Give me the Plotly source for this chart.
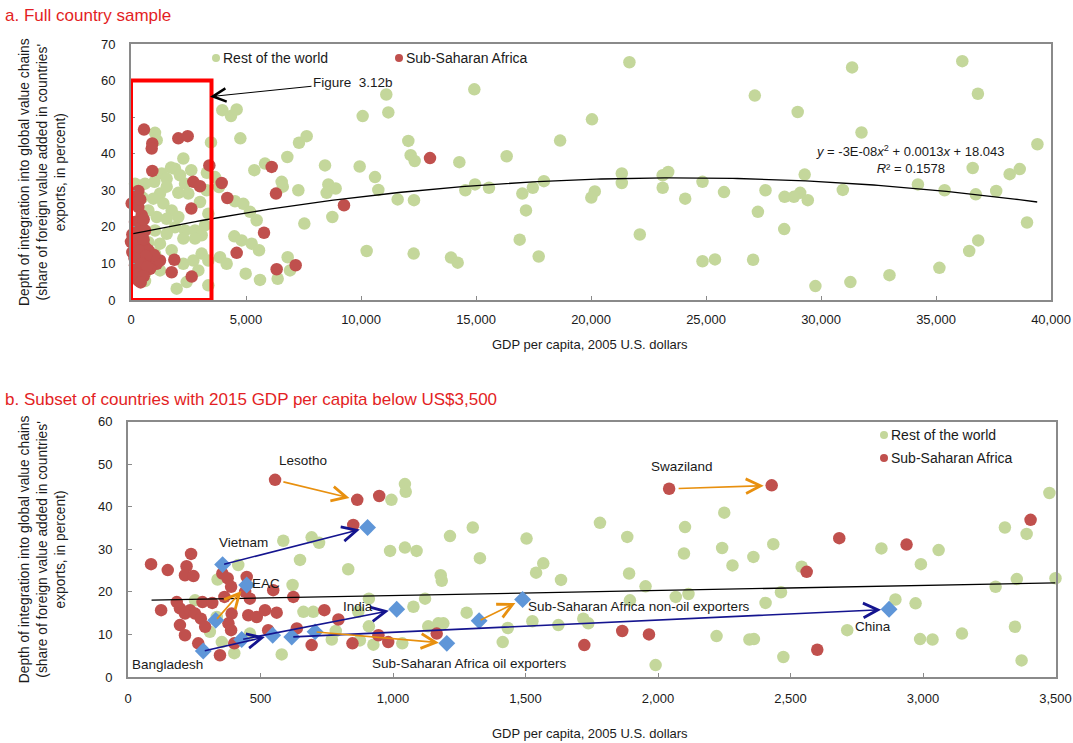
import numpy as np
import plotly.graph_objects as go

# ---------------- panel a: full country sample ----------------
# rest of the world (green)
a_row_x = [1043, 1116, 2275, 1913, 1739, 1333, 1551, 1014, 609, 2130, 2348, 2493, 2057, 3000, 3290,
           1261, 970, 1406, 1768, 1116, 1551, 2057, 1913, 2348, 2783, 3072, 1551, 1043, 754, 1261,
           2275, 2783, 3217, 3362, 609, 609, 1261, 2275, 2710, 3072, 2928, 2420, 1986, 3362, 3362,
           1768, 1043, 500, 754, 174, 1551, 2620, 3478, 3300,
           3971, 4348, 4594, 4754, 7304, 7638, 6797, 5826, 5362, 8435, 6551, 6600, 7275, 8580, 8507,
           8899, 3652, 3826, 4522, 4884, 5174, 5464, 7536, 8754, 4493, 4812, 5246, 5565, 3870, 4159,
           4986, 5609, 6812, 6913, 6377,
           14927, 11100, 11188, 10072, 12058, 12159, 12333, 14275, 16333, 9942, 10609, 10754, 11594,
           12304, 14536, 14957, 15565, 17014, 17174, 10246, 12290, 13913, 14203, 16899,
           21670, 31352, 36143, 36822, 27122, 28987, 20043, 18657, 31761, 39409, 36596, 38643, 38204,
           34213, 35374, 36730, 37617, 30948, 29291, 29096, 28822, 28417, 29426, 27587, 25783, 24848,
           24096, 23357, 23117, 23117, 21339, 21339, 20165, 20013, 17952, 17470, 27257, 28400, 38957,
           36835, 36443, 22122, 17726, 24848, 25391, 27048, 35148, 32978, 31278, 29757]
a_row_y = [45.7, 43.7, 38.7, 35.9, 36.2, 34.6, 33.2, 32.3, 31.8, 34.1, 31.8, 29.1, 29.3, 26.8, 30.0,
           29.1, 27.7, 26.4, 24.5, 22.7, 22.2, 22.7, 19.9, 19.0, 19.0, 17.7, 18.1, 19.0, 15.8, 15.4,
           16.8, 16.8, 20.4, 23.6, 7.2, 5.2, 8.1, 9.9, 10.8, 12.7, 8.1, 4.9, 3.1, 4.0, 10.8,
           13.6, 12.7, 28.0, 24.5, 31.8, 31.0, 35.5, 43.1, 34.8,
           51.9, 50.3, 52.1, 44.2, 43.0, 44.8, 39.1, 37.3, 35.5, 36.8, 32.3, 31.0, 30.0, 31.6, 29.3,
           30.5, 33.6, 30.9, 27.0, 26.3, 24.1, 21.8, 20.9, 22.7, 17.4, 16.3, 15.4, 13.6, 11.7, 9.9,
           7.2, 5.5, 11.7, 8.1, 5.8,
           57.6, 56.2, 51.3, 50.3, 43.5, 39.6, 38.0, 37.7, 39.3, 36.5, 33.6, 30.1, 27.5,
           27.3, 30.0, 31.6, 30.7, 29.1, 24.5, 13.4, 12.7, 11.6, 10.2, 16.5,
           65.0, 63.6, 65.3, 56.4, 55.9, 51.4, 49.4, 43.6, 45.8, 42.6, 36.1, 35.8, 34.4,
           31.6, 30.0, 28.9, 29.8, 30.1, 34.3, 29.3, 28.2, 28.2, 27.3, 30.0, 29.5, 32.3,
           27.7, 35.0, 34.1, 30.7, 34.6, 32.0, 29.7, 28.0, 32.5, 30.7, 24.1, 19.4, 21.2,
           16.3, 13.4, 17.9, 11.9, 10.6, 11.1, 11.0, 8.8, 6.8, 4.9, 3.8]
# sub-Saharan Africa (red)
a_ssa_x = [565, 926, 900, 926, 2057, 2464, 3406, 2710, 3000, 2622, 1884, 1768, 2639, 246, 30, 319,
           465, 174, 465, 58, 246, 609, 58, 391, 754, 1116, 174, 465, 319, 826, 1261, 0, 609, 754,
           1000, 319, 400, 550, 250, 550, 350, 650, 150, 450, 700, 300, 550, 420,
           3942, 4188, 6116, 6304, 5783, 4594, 6333, 7159, 9261, 13000]
a_ssa_y = [46.6, 42.8, 41.4, 35.3, 44.2, 44.8, 36.8, 32.3, 31.1, 25.0, 11.0, 7.6, 6.4, 29.3, 26.4, 25.4,
           23.2, 21.3, 19.9, 17.9, 15.8, 14.5, 13.1, 11.7, 10.8, 9.9, 9.5, 8.1, 5.3, 8.5, 10.8, 15.9, 19.0, 13.6,
           12.3, 29.8, 27.5, 22.0, 18.5, 16.5, 13.5, 12.0, 11.5, 10.0, 9.0, 7.0, 6.5, 4.8,
           32.0, 27.9, 36.4, 29.1, 18.4, 12.9, 8.4, 9.5, 25.9, 38.8]
# polynomial trend: y = a*x^2 + b*x + c
a_trend_coef = [-2.71e-8, 0.00129, 18.043]
a_trend_range = [100, 39400]

# ---------------- panel b: countries below US$3,500 ----------------
b_row_x = [586, 693, 721, 649, 831, 989, 1045, 1089, 994, 1045, 1048, 416, 338, 621, 662, 699, 909, 869,
           909, 1077, 1121, 1133, 1171, 769, 784, 875, 926, 1035, 580, 401, 354, 253, 335, 309, 460,
           1215, 1301, 1328, 1180, 1184, 1504, 1567, 1540, 1634, 1781, 1884, 1891, 1953, 2102, 2098,
           2250, 2242, 2281, 2360, 1278, 1190, 1433, 1414, 1526, 1624, 1718, 1737, 1894, 2067, 2115,
           2221, 2345, 1991,
           2435, 2542, 2464, 2406, 2362, 2473, 2714, 2843, 2992, 3059, 2896, 2972, 2989, 3036, 3147,
           3309, 3391, 3477, 3500, 3354, 3274, 3347, 3372]
b_row_y = [32.0, 32.8, 31.5, 27.5, 25.3, 29.6, 30.4, 29.6, 41.6, 45.3, 43.5, 26.3, 22.9, 21.6, 15.3, 15.3, 18.4, 15.3,
           11.9, 16.5, 18.4, 11.9, 12.6, 8.8, 10.8, 8.6, 7.6, 7.9, 5.3, 5.6, 8.2, 18.0, 14.1, 10.6, 10.2,
           33.1, 35.1, 27.9, 23.9, 22.6, 32.5, 26.7, 24.5, 22.8, 36.2, 32.9, 24.3, 21.3, 35.2, 29.0,
           38.6, 30.3, 26.2, 28.2, 15.1, 12.6, 11.5, 8.2, 13.1, 12.2, 13.7, 12.6, 18.0, 18.8, 19.5,
           9.6, 8.8, 2.8,
           31.2, 25.9, 19.9, 17.4, 8.9, 4.7, 11.0, 30.2, 26.5, 29.8, 18.2, 17.3, 8.9, 8.8, 10.2,
           35.1, 33.6, 43.2, 23.2, 23.0, 21.2, 11.8, 3.9]
b_ssa_x = [87, 150, 125, 238, 221, 215, 247, 184, 196, 215, 196, 215, 234, 253, 275, 291, 281, 318, 265,
           347, 356, 376, 389, 364, 391, 379, 389, 401, 448, 460, 442, 454, 486, 517, 561, 548, 624, 529,
           637, 693, 741, 794, 847, 850, 865, 555, 948, 945, 982, 1165, 1722, 1865, 1966, 2042, 2429,
           2684, 2938, 2561, 2601, 3406]
b_ssa_y = [26.5, 25.1, 15.7, 28.9, 26.0, 23.9, 23.7, 17.6, 16.1, 14.9, 12.2, 9.8, 15.7, 14.9, 13.7, 11.8, 17.6, 17.4, 7.9,
           5.1, 24.3, 23.2, 21.2, 18.8, 14.9, 12.6, 11.0, 7.9, 23.5, 18.4, 20.0, 14.5, 14.1, 15.7, 15.1, 20.4, 18.8, 11.0,
           11.4, 7.5, 15.7, 13.5, 7.9, 35.7, 41.6, 46.3, 42.5, 9.8, 8.2, 10.2, 7.5, 10.8, 10.0, 44.2, 45.0,
           32.6, 31.1, 24.7, 6.4, 36.9]
b_trend_x = [89, 3500]
b_trend_y = [18.05, 22.1]

# comparison groups (blue diamonds): earlier and 2015 positions
grp_x = [284, 546, 429, 1014, 357, 904, 331, 448, 618, 2872, 706, 1203, 1325, 1489]
grp_y = [6.1, 9.8, 8.8, 15.9, 26.4, 35.1, 13.3, 21.6, 9.4, 15.9, 10.6, 7.9, 13.2, 18.2]

# arrows: start, end, colour group
arr_x0 = [284, 429, 357, 618, 331, 706, 1325, 555, 2042]
arr_y0 = [6.1, 8.8, 26.4, 9.4, 13.3, 10.6, 13.2, 46.3, 44.2]
arr_x1 = [546, 1014, 904, 2872, 448, 1203, 1489, 865, 2429]
arr_y1 = [9.8, 15.9, 35.1, 15.9, 21.6, 7.9, 18.2, 41.6, 45.0]
arr_kind = ["asia", "asia", "asia", "asia", "africa", "africa", "africa", "africa", "africa"]
arr_start_gap = [0, 0, 0, 0, 0, 0, 0, 7, 8]

lab_text = ["Lesotho", "Vietnam", "EAC", "India", "Bangladesh", "China",
            "Sub-Saharan Africa oil exporters", "Sub-Saharan Africa non-oil exporters", "Swaziland"]
lab_x = [662, 435, 462, 869, 148, 2810, 1290, 1502, 2089]
lab_y = [50.8, 31.5, 22.0, 16.5, 3.0, 11.8, 3.2, 16.6, 49.4]
lab_anchor = ["center", "center", "left", "center", "center", "center", "center", "left", "center"]

GREEN = "#c4d79b"
RED = "#c0504d"
BLUE = "#5f96d8"
NAVY = "#14148f"
ORANGE = "#e8900f"
FRAME = "#8a8a8a"
TXT = "#1a1a1a"
FONT = "Liberation Sans, Arial, sans-serif"
W, H = 1073, 743

fig = go.Figure()

# panel a
fig.add_trace(go.Scatter(x=a_row_x, y=a_row_y, mode="markers", name="Rest of the world",
                         marker=dict(color=GREEN, size=12.5), cliponaxis=False,
                         xaxis="x", yaxis="y", showlegend=False))
fig.add_trace(go.Scatter(x=a_ssa_x, y=a_ssa_y, mode="markers", name="Sub-Saharan Africa",
                         marker=dict(color=RED, size=12.5), cliponaxis=False,
                         xaxis="x", yaxis="y", showlegend=False))
xf = np.linspace(a_trend_range[0], a_trend_range[1], 200)
fig.add_trace(go.Scatter(x=xf, y=np.polyval(a_trend_coef, xf), mode="lines",
                         line=dict(color="black", width=1.3), xaxis="x", yaxis="y", showlegend=False))

# panel b
fig.add_trace(go.Scatter(x=b_row_x, y=b_row_y, mode="markers", marker=dict(color=GREEN, size=12.5),
                         cliponaxis=False, xaxis="x2", yaxis="y2", showlegend=False))
fig.add_trace(go.Scatter(x=b_ssa_x, y=b_ssa_y, mode="markers", marker=dict(color=RED, size=12.5),
                         cliponaxis=False, xaxis="x2", yaxis="y2", showlegend=False))
fig.add_trace(go.Scatter(x=b_trend_x, y=b_trend_y, mode="lines", line=dict(color="black", width=1.3),
                         xaxis="x2", yaxis="y2", showlegend=False))
fig.add_trace(go.Scatter(x=grp_x, y=grp_y, mode="markers", marker=dict(color=BLUE, size=13, symbol="diamond"),
                         cliponaxis=False, xaxis="x2", yaxis="y2", showlegend=False))

ann = []
for x0, y0, x1, y1, k, g in zip(arr_x0, arr_y0, arr_x1, arr_y1, arr_kind, arr_start_gap):
    ann.append(dict(x=x1, y=y1, ax=x0, ay=y0, xref="x2", yref="y2", axref="x2", ayref="y2",
                    text="", showarrow=True, arrowhead=5, arrowsize=1.8, arrowwidth=1.6,
                    arrowcolor=NAVY if k == "asia" else ORANGE, standoff=8, startstandoff=g))
for t, x, y, a in zip(lab_text, lab_x, lab_y, lab_anchor):
    ann.append(dict(x=x, y=y, xref="x2", yref="y2", text=t, showarrow=False, xanchor=a,
                    yanchor="middle", font=dict(size=13.5, color=TXT)))

# panel a annotations
ann.append(dict(x=3435, y=55.6, ax=9652, ay=59.6, xref="x", yref="y", axref="x", ayref="y",
                text="Figure\u00a0\u00a03.12b", showarrow=True, arrowhead=5, arrowsize=2.6, arrowwidth=1,
                arrowcolor="black", font=dict(size=13.5, color=TXT)))
ann.append(dict(x=33870, y=38.5, xref="x", yref="y", showarrow=False, align="center",
                xanchor="center", yanchor="middle",
                text="<i>y</i> = -3E-08<i>x</i><sup>2</sup> + 0.0013<i>x</i> + 18.043<br><i>R</i>² = 0.1578",
                font=dict(size=13, color=TXT)))

# titles
ann.append(dict(x=3 / W, y=1 - 15 / H, xref="paper", yref="paper", xanchor="left", yanchor="middle",
                text="a. Full country sample", showarrow=False, font=dict(size=17, color="#e31e24")))
ann.append(dict(x=3 / W, y=1 - 399 / H, xref="paper", yref="paper", xanchor="left", yanchor="middle",
                text="b. Subset of countries with 2015 GDP per capita below US$3,500", showarrow=False,
                font=dict(size=17, color="#e31e24")))

ytitle = "Depth of integration into global value chains<br>(share of foreign value added in countries'<br>exports, in percent)"
for yc in [(44 + 300) / 2, (421.5 + 677) / 2]:
    ann.append(dict(x=42 / W, y=1 - yc / H, xref="paper", yref="paper", text=ytitle, textangle=-90,
                    xanchor="center", yanchor="middle",
                    showarrow=False, align="center", font=dict(size=13.8, color=TXT)))
for yc in [344, 733]:
    ann.append(dict(x=590 / W, y=1 - yc / H, xref="paper", yref="paper", text="GDP per capita, 2005 U.S. dollars",
                    xanchor="center", yanchor="middle", showarrow=False, font=dict(size=13, color=TXT)))

# legends drawn as markers + text
shapes = []
leg = [(216, 58, GREEN, "Rest of the world"), (399, 58, RED, "Sub-Saharan Africa"),
       (884, 435, GREEN, "Rest of the world"), (884, 458, RED, "Sub-Saharan Africa")]
for px, py, c, t in leg:
    shapes.append(dict(type="circle", xref="paper", yref="paper", xsizemode="pixel", ysizemode="pixel",
                       xanchor=px / W, yanchor=1 - py / H, x0=-4, x1=4, y0=-4, y1=4,
                       fillcolor=c, line=dict(width=0)))
    ann.append(dict(x=(px + 5) / W, y=1 - py / H, xref="paper", yref="paper", xanchor="left",
                    yanchor="middle", text=t, showarrow=False, font=dict(size=14, color=TXT)))

# box marking the subset shown in panel b
shapes.append(dict(type="rect", xref="x", yref="y", x0=0, x1=3500, y0=0, y1=60,
                   line=dict(color="#ff0000", width=4)))

axis_common = dict(showline=True, linecolor=FRAME, linewidth=2, mirror=True, ticks="inside", ticklen=4,
                   tickcolor=FRAME, showgrid=False, zeroline=False, automargin=False,
                   tickfont=dict(size=13, color=TXT))

fig.update_layout(
    width=W, height=H, margin=dict(l=0, r=0, t=0, b=0, autoexpand=False),
    paper_bgcolor="white", plot_bgcolor="white",
    font=dict(family=FONT, color=TXT),
    xaxis=dict(domain=[131 / W, 1051 / W], range=[0, 40000], tickvals=list(range(0, 40001, 5000)),
               tickformat=",", anchor="y", ticklabelstandoff=6, **axis_common),
    yaxis=dict(domain=[1 - 300 / H, 1 - 44 / H], range=[0, 70], dtick=10, anchor="x",
               ticklabelstandoff=11, **axis_common),
    xaxis2=dict(domain=[128 / W, 1055.5 / W], range=[0, 3500], tickvals=list(range(0, 3501, 500)),
                tickformat=",", anchor="y2", ticklabelstandoff=8, **axis_common),
    yaxis2=dict(domain=[1 - 677 / H, 1 - 421.5 / H], range=[0, 60], dtick=10, anchor="x2",
                ticklabelstandoff=11, **axis_common),
    annotations=ann, shapes=shapes, showlegend=False,
)

fig.write_html("out.html", config={"displayModeBar": False},
               post_script="document.body.style.margin='0';")
